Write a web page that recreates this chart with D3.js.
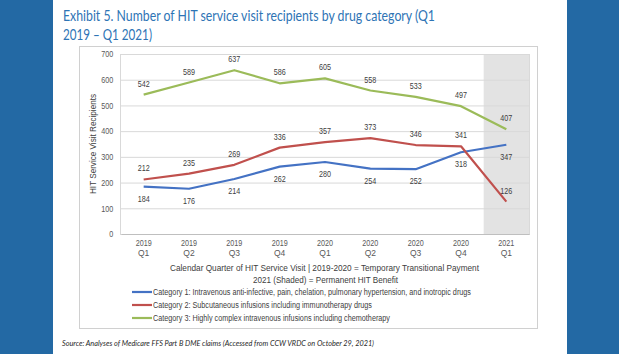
<!DOCTYPE html>
<html lang="en">
<head>
<meta charset="utf-8">
<script src="https://d3js.org/d3.v7.min.js"></script>
<style>
  body { margin: 0; background: #fff; }
  svg text { font-family: "Liberation Sans", Arial, sans-serif; }
</style>
</head>
<body>
<script>
// Chart data
const quarters = ["2019 Q1", "2019 Q2", "2019 Q3", "2019 Q4", "2020 Q1", "2020 Q2", "2020 Q3", "2020 Q4", "2021 Q1"];
const cat1 = [184, 176, 214, 262, 280, 254, 252, 318, 347];
const cat2 = [212, 235, 269, 336, 357, 373, 346, 341, 126];
const cat3 = [542, 589, 637, 586, 605, 558, 533, 497, 407];
const seriesNames = [
  "Category 1: Intravenous anti-infective, pain, chelation, pulmonary hypertension, and inotropic drugs",
  "Category 2: Subcutaneous infusions including immunotherapy drugs",
  "Category 3: Highly complex intravenous infusions including chemotherapy"
];
const yTicks = [0, 100, 200, 300, 400, 500, 600, 700];
const shadedQuarter = "2021 Q1";

const series = [
  { name: seriesNames[0], values: cat1, color: "#4472c4", below: true, legendW: 318 },
  { name: seriesNames[1], values: cat2, color: "#c0504d", below: false, legendW: 219 },
  { name: seriesNames[2], values: cat3, color: "#9bbb59", below: false, legendW: 237 }
];
// label placement tweaks for the blue/red crossover at the end
const belowOverride = { "0-8": true, "1-8": false };

const W = 619, H = 354;
const svg = d3.select("body").append("svg")
  .attr("width", W).attr("height", H);

// page background with blue side bands
svg.append("rect").attr("width", W).attr("height", H).attr("fill", "#fff");
svg.append("rect").attr("x", 0).attr("y", 0).attr("width", 53).attr("height", H).attr("fill", "#2369a4");
svg.append("rect").attr("x", 567).attr("y", 0).attr("width", 52).attr("height", H).attr("fill", "#2369a4");

// title (squeezed to mimic the narrow original face)
const titleFont = "Lato, 'Open Sans', sans-serif";
svg.append("text")
  .attr("x", 63).attr("y", 21)
  .attr("fill", "#2e74b5")
  .style("font-family", titleFont).style("font-size", "16px")
  .attr("textLength", 372).attr("lengthAdjust", "spacingAndGlyphs")
  .text("Exhibit 5. Number of HIT service visit recipients by drug category (Q1");
svg.append("text")
  .attr("x", 63).attr("y", 40)
  .attr("fill", "#2e74b5")
  .style("font-family", titleFont).style("font-size", "16px")
  .attr("textLength", 89).attr("lengthAdjust", "spacingAndGlyphs")
  .text("2019 \u2013 Q1 2021)");

// chart frame
svg.append("rect")
  .attr("x", 79.5).attr("y", 46.5).attr("width", 458).attr("height", 282)
  .attr("fill", "#fff").attr("stroke", "#d0d0d0");

const plot = { left: 121, right: 529, top: 54, bottom: 234 };

const x = d3.scaleBand().domain(quarters).range([plot.left, plot.right]);
const y = d3.scaleLinear().domain([0, 700]).range([plot.bottom, plot.top]);
const cx = d => x(d) + x.bandwidth() / 2;

// shaded 2021 band
svg.append("rect")
  .attr("x", x(shadedQuarter)).attr("y", plot.top)
  .attr("width", x.bandwidth()).attr("height", plot.bottom - plot.top)
  .attr("fill", "#e3e3e3");

// gridlines
svg.append("g").selectAll("line").data(yTicks.slice(1)).join("line")
  .attr("x1", plot.left).attr("x2", plot.right)
  .attr("y1", d => y(d) + 0.5).attr("y2", d => y(d) + 0.5)
  .attr("stroke", "#d9d9d9");

// plot area border
svg.append("rect")
  .attr("x", plot.left - 0.5).attr("y", plot.top + 0.5)
  .attr("width", plot.right - plot.left + 1).attr("height", plot.bottom - plot.top)
  .attr("fill", "none").attr("stroke", "#d9d9d9");

// y axis labels
const yAxis = svg.append("g")
  .attr("transform", `translate(${plot.left},0)`)
  .call(d3.axisLeft(y).tickValues(yTicks).tickSize(0).tickPadding(9));
yAxis.select(".domain").remove();
yAxis.selectAll("text").attr("fill", "#595959").style("font-size", "8.5px")
  .attr("transform", "scale(0.85,1)");

// x axis
const xAxis = svg.append("g")
  .attr("transform", `translate(0,${plot.bottom})`)
  .call(d3.axisBottom(x).tickSize(0).tickPadding(6));
xAxis.select(".domain").attr("stroke", "#bfbfbf");
xAxis.selectAll("text")
  .attr("fill", "#595959").style("font-size", "8.5px")
  .each(function (d) {
    const t = d3.select(this), parts = d.split(" ");
    t.text(null);
    t.append("tspan").attr("x", 0).attr("textLength", 16).attr("lengthAdjust", "spacingAndGlyphs").text(parts[0]);
    t.append("tspan").attr("x", 0).attr("dy", "1.2em").text(parts[1]);
  });

// y axis title
svg.append("text")
  .attr("transform", `translate(96,${(plot.top + plot.bottom) / 2}) rotate(-90)`)
  .attr("text-anchor", "middle")
  .attr("fill", "#404040").style("font-size", "9px")
  .attr("textLength", 100).attr("lengthAdjust", "spacingAndGlyphs")
  .text("HIT Service Visit Recipients");

// x axis title
svg.append("text")
  .attr("x", 170).attr("y", 271)
  .attr("fill", "#404040").style("font-size", "9px")
  .attr("textLength", 309).attr("lengthAdjust", "spacingAndGlyphs")
  .text("Calendar Quarter of HIT Service Visit  |  2019-2020 = Temporary Transitional Payment");
svg.append("text")
  .attr("x", 253).attr("y", 283)
  .attr("fill", "#404040").style("font-size", "9px")
  .attr("textLength", 145).attr("lengthAdjust", "spacingAndGlyphs")
  .text("2021 (Shaded) = Permanent HIT Benefit");

// lines
const line = d3.line().x((d, i) => cx(quarters[i])).y(d => y(d));
series.forEach((s, si) => {
  svg.append("path")
    .datum(s.values)
    .attr("fill", "none")
    .attr("stroke", s.color)
    .attr("stroke-width", 2.2)
    .attr("stroke-linejoin", "round")
    .attr("d", line);

  svg.append("g").selectAll("text").data(s.values).join("text")
    .attr("x", (d, i) => cx(quarters[i]))
    .attr("y", (d, i) => {
      const key = si + "-" + i;
      const below = key in belowOverride ? belowOverride[key] : s.below;
      return below ? y(d) + 15 : y(d) - 8;
    })
    .attr("text-anchor", "middle")
    .attr("fill", "#404040").style("font-size", "9px")
    .attr("textLength", 12).attr("lengthAdjust", "spacingAndGlyphs")
    .text(d => d);
});

// legend
const legend = svg.append("g");
series.forEach((s, i) => {
  const ly = 292 + i * 13;
  legend.append("line")
    .attr("x1", 132).attr("x2", 152).attr("y1", ly).attr("y2", ly)
    .attr("stroke", s.color).attr("stroke-width", 2.2);
  legend.append("text")
    .attr("x", 153).attr("y", ly + 3)
    .attr("fill", "#404040").style("font-size", "8.5px")
    .attr("textLength", s.legendW).attr("lengthAdjust", "spacingAndGlyphs")
    .text(s.name);
});

// source note
svg.append("text")
  .attr("x", 62).attr("y", 346)
  .attr("fill", "#1f1f1f")
  .style("font-family", titleFont)
  .style("font-size", "8.5px").style("font-style", "italic")
  .attr("textLength", 312).attr("lengthAdjust", "spacingAndGlyphs")
  .text("Source: Analyses of Medicare FFS Part B DME claims (Accessed from CCW VRDC on October 29, 2021)");
</script>
</body>
</html>
